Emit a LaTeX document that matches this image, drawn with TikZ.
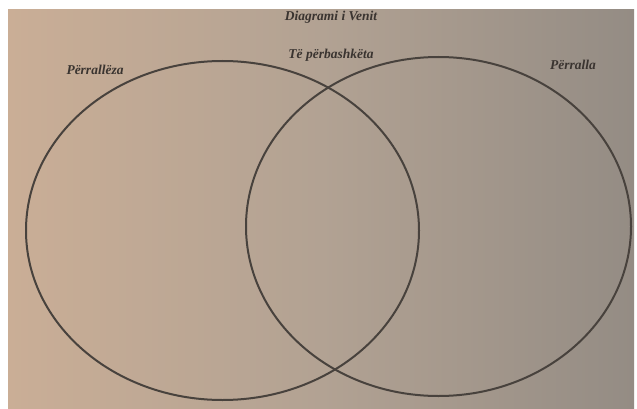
\documentclass[tikz,border=0pt]{standalone}
\usepackage{fontspec}
\setmainfont{Liberation Serif}
\usepackage{tikz}
\usetikzlibrary{positioning}

\definecolor{paperL}{RGB}{202,174,150}
\definecolor{paperM}{RGB}{178,162,147}
\definecolor{paperR}{RGB}{148,140,132}
\definecolor{inkline}{RGB}{72,66,61}
\definecolor{inktext}{RGB}{58,52,48}

\tikzset{
    lbl/.style={text=inktext, font=\fontsize{13.5}{15}\selectfont\bfseries\itshape, inner sep=1pt},
    set/.style={draw=inkline, line width=2pt}
}

\begin{document}
\begin{tikzpicture}[x=1pt, y=-1pt]
    \useasboundingbox (0,0) rectangle (637,409);
    % Page
    \fill[white] (0,0) rectangle (637,409);
    \shade[left color=paperL, right color=paperR, middle color=paperM] (8,10) rectangle (634,409);
    % Sets
    \draw[set] (222.5,230.5) ellipse [x radius=196.5pt, y radius=169.5pt];
    \draw[set] (438.5,226.5) ellipse [x radius=192.5pt, y radius=169.5pt];
    % Labels
    \node[lbl] (title) at (331,17) {Diagrami i Venit};
    \node[lbl] (common) at (331,55) {Të përbashkëta};
    \node[lbl] (left) at (95,70) {Përrallëza};
    \node[lbl] (right) at (573,65) {Përralla};
\end{tikzpicture}
\end{document}
